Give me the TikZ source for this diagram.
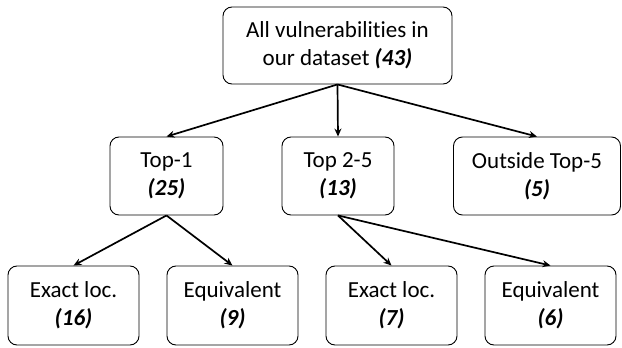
\documentclass[tikz,border=0pt]{standalone}
\usepackage{fontspec}
\setmainfont{Carlito}[Ligatures=NoCommon,RawFeature={-liga;-clig;-dlig}]
\usetikzlibrary{arrows.meta}
\begin{document}
\begin{tikzpicture}[x=1pt,y=-1pt,
  box/.style={draw, rounded corners=9pt, line width=0.9pt, align=center, inner sep=0pt,
    font=\fontsize{23}{28}\selectfont},
  arr/.style={line width=1.7pt, -{Stealth[length=8pt,width=7pt]}}]
\useasboundingbox (0,0) rectangle (622,348);
\node[box, minimum width=229pt, minimum height=77pt] (root) at (337.5,45.5) {All vulnerabilities in\\our dataset \textbf{\textit{(43)}}};
\node[box, minimum width=113pt, minimum height=78pt] (top1) at (166.5,176) {Top-1\\\textbf{\textit{(25)}}};
\node[box, minimum width=112pt, minimum height=78pt] (top25) at (338,176) {Top 2-5\\\textbf{\textit{(13)}}};
\node[box, minimum width=167pt, minimum height=78pt] (out) at (537,176) {Outside Top-5\\\textbf{\textit{(5)}}};
\node[box, minimum width=131pt, minimum height=79pt] (ex1) at (73.5,305.5) {Exact loc.\\\textbf{\textit{(16)}}};
\node[box, minimum width=131pt, minimum height=79pt] (eq1) at (232.5,305.5) {Equivalent\\\textbf{\textit{(9)}}};
\node[box, minimum width=131pt, minimum height=79pt] (ex2) at (391.5,305.5) {Exact loc.\\\textbf{\textit{(7)}}};
\node[box, minimum width=131pt, minimum height=79pt] (eq2) at (550.5,305.5) {Equivalent\\\textbf{\textit{(6)}}};
\draw[arr] (root.south) -- (top1.north);
\draw[arr] (root.south) -- (top25.north);
\draw[arr] (root.south) -- (out.north);
\draw[arr] (top1.south) -- (ex1.north);
\draw[arr] (top1.south) -- (eq1.north);
\draw[arr] (top25.south) -- (ex2.north);
\draw[arr] (top25.south) -- (eq2.north);
\end{tikzpicture}
\end{document}
